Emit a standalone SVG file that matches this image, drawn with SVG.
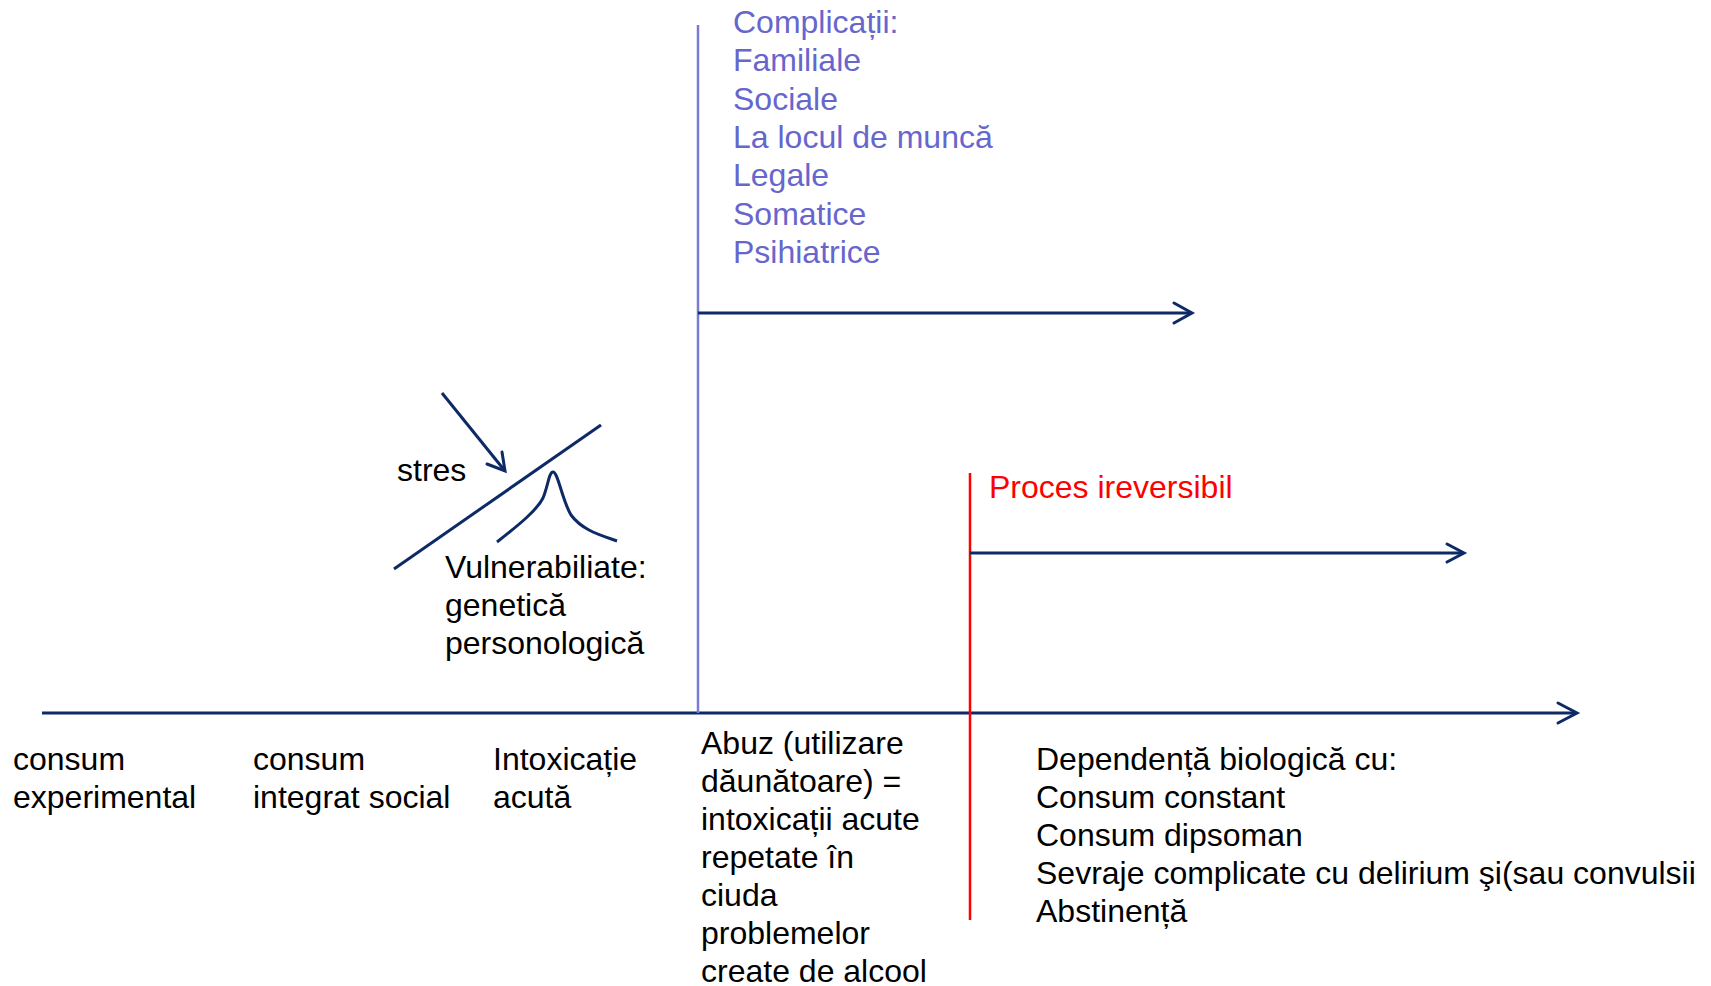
<svg xmlns="http://www.w3.org/2000/svg" width="1711" height="986" viewBox="0 0 1711 986">
<style>
text{font-family:"Liberation Sans",Arial,sans-serif;font-size:32px}
.k{fill:#000}
.p{fill:#6666cc}
.r{fill:#ff0000}
.ln{stroke:#0d2a66;stroke-width:3;fill:none}
.ah{stroke:#0d2a66;stroke-width:3;fill:none;stroke-linecap:round;stroke-linejoin:miter}
</style>
<rect width="1711" height="986" fill="#fff"/>
<g id="connectors">
<line class="ln" x1="42" y1="713" x2="1575" y2="713"/>
<polyline class="ah" points="1558,703 1577,713 1558,723"/>
<line x1="698" y1="25" x2="698" y2="713" stroke="#7b7bd6" stroke-width="2.5"/>
<line x1="970" y1="473" x2="970" y2="920" stroke="#ff0000" stroke-width="2.5"/>
<line class="ln" x1="698" y1="313" x2="1190" y2="313"/>
<polyline class="ah" points="1174,303 1192,313 1174,323"/>
<line class="ln" x1="970" y1="553" x2="1462" y2="553"/>
<polyline class="ah" points="1447,544 1464,553 1447,562"/>
<line class="ln" x1="442" y1="393" x2="505" y2="471"/>
<polyline class="ah" points="487,464 505,471 502,452"/>
<line class="ln" x1="394" y1="569" x2="601" y2="425"/>
<path class="ln" d="M497,542 C520,524 537,510 543,498 C548,486 549,472 553,472 C558,472 562,500 571,515 C582,530 600,535 617,541"/>
</g>
<g id="complicatii">
<text class="p" x="733" y="33">Complicații:</text>
<text class="p" x="733" y="71">Familiale</text>
<text class="p" x="733" y="110">Sociale</text>
<text class="p" x="733" y="148">La locul de muncă</text>
<text class="p" x="733" y="186">Legale</text>
<text class="p" x="733" y="225">Somatice</text>
<text class="p" x="733" y="263">Psihiatrice</text>
</g>
<g id="stres"><text class="k" x="397" y="481">stres</text></g>
<g id="vulnerabilitate">
<text class="k" x="445" y="578">Vulnerabiliate:</text>
<text class="k" x="445" y="616">genetică</text>
<text class="k" x="445" y="654">personologică</text>
</g>
<g id="proces"><text class="r" x="989" y="498">Proces ireversibil</text></g>
<g id="consum-exp">
<text class="k" x="13" y="770">consum</text>
<text class="k" x="13" y="808">experimental</text>
</g>
<g id="consum-soc">
<text class="k" x="253" y="770">consum</text>
<text class="k" x="253" y="808">integrat social</text>
</g>
<g id="intoxicatie">
<text class="k" x="493" y="770">Intoxicație</text>
<text class="k" x="493" y="808">acută</text>
</g>
<g id="abuz">
<text class="k" x="701" y="754">Abuz (utilizare</text>
<text class="k" x="701" y="792">dăunătoare) =</text>
<text class="k" x="701" y="830">intoxicații acute</text>
<text class="k" x="701" y="868">repetate în</text>
<text class="k" x="701" y="906">ciuda</text>
<text class="k" x="701" y="944">problemelor</text>
<text class="k" x="701" y="982">create de alcool</text>
</g>
<g id="dependenta">
<text class="k" x="1036" y="770">Dependență biologică cu:</text>
<text class="k" x="1036" y="808">Consum constant</text>
<text class="k" x="1036" y="846">Consum dipsoman</text>
<text class="k" x="1036" y="884">Sevraje complicate cu delirium şi(sau convulsii</text>
<text class="k" x="1036" y="922">Abstinență</text>
</g>
</svg>
